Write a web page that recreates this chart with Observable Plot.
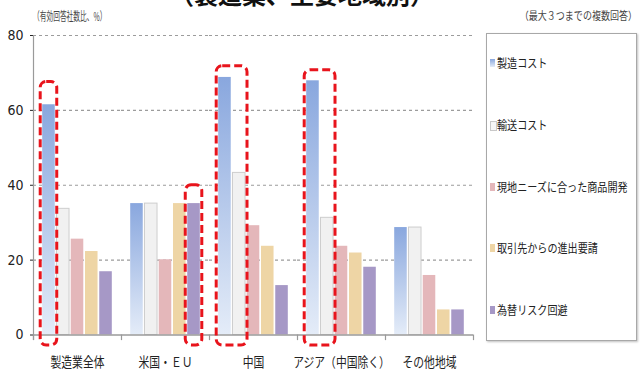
<!DOCTYPE html>
<html>
<head>
<meta charset="utf-8">
<script src="https://cdn.jsdelivr.net/npm/d3@7"></script>
<script src="https://cdn.jsdelivr.net/npm/@observablehq/plot@0.6"></script>
<style>
  body { margin: 0; background: #fff; }
  #wrap { position: relative; width: 641px; height: 382px; overflow: hidden;
          font-family: "Noto Sans CJK JP", "Noto Sans", sans-serif; color: #333; }
  #wrap > svg.chart { position: absolute; left: 0; top: 0; }
  .cap { position: absolute; white-space: nowrap; line-height: 1; color: #444; }
  #title { position: absolute; top: -18px; left: 170px; font-size: 24px; font-weight: 700;
           white-space: nowrap; color: #111; line-height: 1; }
  #legend { position: absolute; left: 486px; top: 33px; width: 149px; height: 306px;
            border: 1px solid #a8a8a8; box-shadow: 1px 1px 2px rgba(0,0,0,0.25); background: #fff; }
  .item { position: absolute; left: 3px; height: 14px; white-space: nowrap; }
  .sw { position: absolute; left: 0; top: 3px; width: 5px; height: 8px; }
  .lab { position: absolute; left: 7px; top: 0; font-size: 12px; line-height: 14px; color: #222;
         transform-origin: 0 50%; transform: scaleX(0.84); }
</style>
</head>
<body>
<svg width="0" height="0" style="position:absolute">
  <defs>
    <linearGradient id="blueGrad" x1="0" y1="0" x2="0" y2="1">
      <stop offset="0" stop-color="#89a7de"/>
      <stop offset="1" stop-color="#e4ecf8"/>
    </linearGradient>
  </defs>
</svg>
<div id="wrap">
  <div id="title">（製造業、主要地域別）</div>
  <div class="cap" style="left:33px; top:10px; font-size:12px; transform-origin:0 50%; transform:scaleX(0.56);">（有効回答社数比、%）</div>
  <div class="cap" style="right:4px; top:10px; font-size:11px; transform-origin:100% 50%; transform:scaleX(0.82);">（最大３つまでの複数回答）</div>
  <div id="legend"></div>
</div>
<script>
// Regions on the horizontal axis
const regions = ["製造業全体", "米国・ＥＵ", "中国", "アジア（中国除く）", "その他地域"];

// Reasons (one bar per reason in each region)
const series = ["製造コスト", "輸送コスト", "現地ニーズに合った商品開発", "取引先からの進出要請", "為替リスク回避"];

// Share of responding companies (%), in region order
const productionCost = [61.5, 35.1, 68.8, 67.9, 28.7];
const transportCost  = [33.7, 35.1, 43.3, 31.3, 28.7];
const localNeeds     = [25.6, 20.1, 29.2, 23.7, 15.9];
const clientRequest  = [22.3, 35.1, 23.7, 21.9, 6.7];
const fxRiskHedge    = [16.9, 35.1, 13.2, 18.1, 6.7];

const yTicks = [0, 20, 40, 60, 80];

// Emphasised bars: region, first and last reason enclosed, upper edge (%)
const highlights = [
  {region: "製造業全体", from: "製造コスト", to: "製造コスト", top: 67.6},
  {region: "米国・ＥＵ", from: "為替リスク回避", to: "為替リスク回避", top: 40},
  {region: "中国", from: "製造コスト", to: "輸送コスト", top: 71.8},
  {region: "アジア（中国除く）", from: "製造コスト", to: "輸送コスト", top: 70.7}
];

const colors = ["url(#blueGrad)", "#f1f1f1", "#e4b7ba", "#eed5a5", "#a698c6"];
const swatches = ["linear-gradient(#89a7de,#e4ecf8)", "#f6f6f6", "#e4b7ba", "#eed5a5", "#a698c6"];

const valueSets = [productionCost, transportCost, localNeeds, clientRequest, fxRiskHedge];
const rows = series.flatMap((s, si) =>
  regions.map((r, ri) => ({region: r, series: s, idx: si, value: valueSets[si][ri]})));

const idxOf = (s) => series.indexOf(s);
const xMin = -1.085, xMax = 5.085;   // slot units within one region
const half = 0.44;                   // half bar width in slot units
const pad = 0.58;                    // highlight padding around bars

const chart = Plot.plot({
  width: 480,
  height: 382,
  marginTop: 35,
  marginBottom: 47.5,
  marginLeft: 32,
  marginRight: 7,
  style: {fontFamily: "'Noto Sans CJK JP', sans-serif", fontSize: "13px", color: "#222", background: "transparent"},
  fx: {domain: regions, padding: 0, axis: "bottom", tickSize: 0, tickPadding: 22, label: null},
  x: {domain: [xMin, xMax], axis: null},
  y: {domain: [0, 80], ticks: yTicks, tickSize: 3, tickPadding: 7, label: null, tickFormat: d => String(d)},
  color: {domain: series, range: colors},
  marks: [
    Plot.ruleY(yTicks.filter(v => v > 0), {stroke: "#9c9c9c", strokeWidth: 1.2, strokeDasharray: "3,3"}),
    Plot.rectY(rows, {fx: "region", x1: d => d.idx - half, x2: d => d.idx + half, y1: 0, y2: "value", fill: "series"}),
    Plot.rectY(rows.filter(d => d.series === "輸送コスト"),
      {fx: "region", x1: d => d.idx - half, x2: d => d.idx + half, y1: 0, y2: "value",
       fill: "none", stroke: "#cdcdcd", strokeWidth: 1}),
    Plot.ruleY([0], {stroke: "#9a9a9a", strokeWidth: 1.5}),
    Plot.ruleX(regions, {fx: d => d, x: xMin, y1: 0, y2: -1.5, stroke: "#9a9a9a", strokeWidth: 1.2}),
    Plot.ruleX([regions[regions.length - 1]], {fx: d => d, x: xMax, y1: 0, y2: -1.5, stroke: "#9a9a9a", strokeWidth: 1.2}),
    Plot.ruleX([regions[0]], {fx: d => d, x: xMin, y1: -1.5, y2: 80, stroke: "#9a9a9a", strokeWidth: 1.2}),
    Plot.rect(highlights, {fx: "region", x1: d => idxOf(d.from) - pad, x2: d => idxOf(d.to) + pad,
      y1: -2.8, y2: "top", fill: "none", stroke: "#e8141c", strokeWidth: 3, strokeDasharray: "8,4", rx: 6})
  ]
});
chart.classList.add("chart");
document.getElementById("wrap").appendChild(chart);

// Condensed look for the axis labels
chart.querySelectorAll('[aria-label^="fx-axis"] text').forEach(t => {
  const tr = t.getAttribute("transform") || "";
  t.setAttribute("transform", (tr + " scale(0.8,1)").trim());
  t.style.fontSize = "13.5px";
});
chart.querySelectorAll('[aria-label^="y-axis"] text').forEach(t => {
  t.style.fontFamily = "'Liberation Sans Narrow', 'DejaVu Sans Condensed', sans-serif";
  t.style.fontSize = "14px";
});

// Legend
const legend = document.getElementById("legend");
series.forEach((s, i) => {
  const item = document.createElement("div");
  item.className = "item";
  item.style.top = (22 + 61.8 * i) + "px";
  const sw = document.createElement("div");
  sw.className = "sw";
  sw.style.background = swatches[i];
  if (i === 1) sw.style.border = "1px solid #c8c8c8";
  const lab = document.createElement("div");
  lab.className = "lab";
  lab.textContent = s;
  item.appendChild(sw);
  item.appendChild(lab);
  legend.appendChild(item);
});
</script>
</body>
</html>
